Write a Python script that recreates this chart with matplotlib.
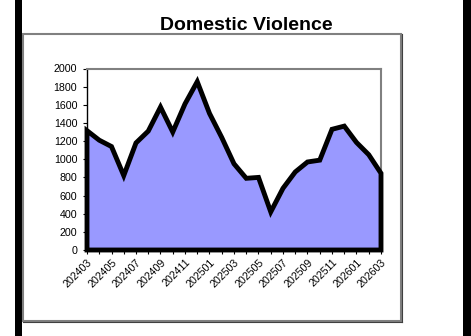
import matplotlib
matplotlib.use("Agg")
import matplotlib.pyplot as plt
from matplotlib.patches import Rectangle
from matplotlib.lines import Line2D
import numpy as np

plt.rcParams["font.family"] = ["Liberation Sans", "DejaVu Sans"]

months = ["202403", "202404", "202405", "202406", "202407", "202408", "202409",
          "202410", "202411", "202412", "202501", "202502", "202503", "202504",
          "202505", "202506", "202507", "202508", "202509", "202510", "202511",
          "202512", "202601", "202602", "202603"]
counts = [1315, 1210, 1140, 820, 1180, 1310, 1575, 1300, 1610, 1855, 1505, 1240,
          950, 790, 800, 420, 680, 860, 970, 990, 1330, 1365, 1185, 1050, 845]

W, H = 471, 336
fig = plt.figure(figsize=(W / 100, H / 100), dpi=100)

# side black bars and chart frame
fig.patches.append(Rectangle((15 / W, 0), 7 / W, 1, transform=fig.transFigure,
                             facecolor="black", edgecolor="none"))
fig.patches.append(Rectangle((463 / W, 0), 8 / W, 1, transform=fig.transFigure,
                             facecolor="black", edgecolor="none"))
fig.patches.append(Rectangle((23 / W, 1 - 321 / H), 378 / W, 287 / H,
                             transform=fig.transFigure, facecolor="none",
                             edgecolor="#808080", lw=1.5))
fig.lines.append(Line2D([401.5 / W, 401.5 / W], [1 - 321.5 / H, 1 - 34 / H],
                        transform=fig.transFigure, color="#404040", lw=0.8))
fig.lines.append(Line2D([23 / W, 401.5 / W], [1 - 321.5 / H, 1 - 321.5 / H],
                        transform=fig.transFigure, color="#404040", lw=0.8))

fig.text(246 / W, 1 - 30 / H, "Domestic Violence", ha="center", va="baseline",
         fontsize=14, fontweight="bold")

ax = fig.add_axes([87 / W, 1 - 250 / H, 294 / W, 181.5 / H])
x = np.arange(len(months))
y = np.array(counts)
ax.fill(np.r_[x, x[-1], x[0]], np.r_[y, 0, 0], facecolor="#9999FF",
        edgecolor="black", lw=3.5, joinstyle="miter", clip_on=False, zorder=3)

ax.set_xlim(0, len(months) - 1)
ax.set_ylim(0, 2000)
ax.set_yticks(np.arange(0, 2001, 200))
ax.set_xticks(x)
ax.set_xticklabels([m if i % 2 == 0 else "" for i, m in enumerate(months)],
                   rotation=45, ha="right", rotation_mode="anchor")
ax.tick_params(axis="both", direction="out", length=3, width=0.8, labelsize=7.7,
               pad=2)
ax.tick_params(axis="y", pad=4)
for s in ["top", "right"]:
    ax.spines[s].set_color("#808080")
    ax.spines[s].set_linewidth(1.5)
for s in ["left", "bottom"]:
    ax.spines[s].set_color("black")
    ax.spines[s].set_linewidth(1)

fig.savefig("out.png", dpi=100)
